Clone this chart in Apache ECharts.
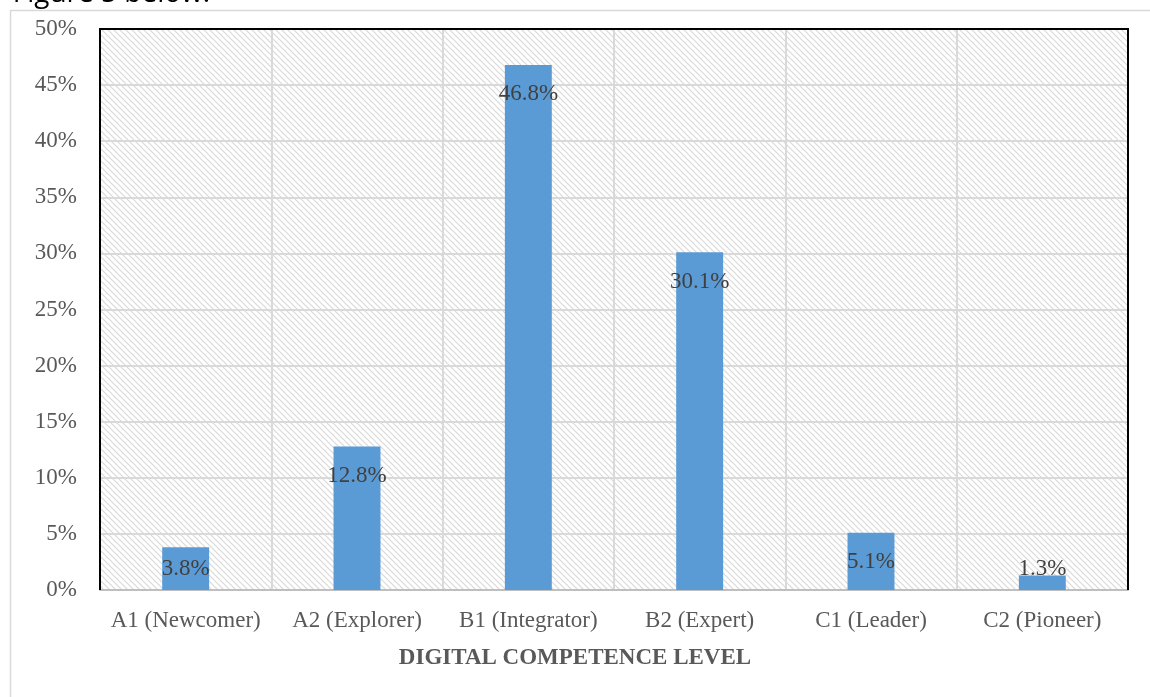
<!DOCTYPE html>
<html>
<head>
<meta charset="utf-8">
<script src="https://cdn.jsdelivr.net/npm/echarts@6/dist/echarts.min.js"></script>
<style>html,body{margin:0;padding:0;background:#fff;}#c{width:1150px;height:697px;}</style>
</head>
<body>
<div id="c"></div>
<script>
const categories = ['A1 (Newcomer)', 'A2 (Explorer)', 'B1 (Integrator)', 'B2 (Expert)', 'C1 (Leader)', 'C2 (Pioneer)'];
const values = [3.8, 12.8, 46.8, 30.1, 5.1, 1.3];
const axisTitle = 'DIGITAL COMPETENCE LEVEL';
const headerText = 'r Figure 5 below.';

// hatch pattern canvas
const pc = document.createElement('canvas');
pc.width = 6; pc.height = 6;
const px = pc.getContext('2d');
px.fillStyle = '#ffffff';
px.fillRect(0, 0, 6, 6);
px.strokeStyle = '#d9d9d9';
px.lineWidth = 1.2;
px.beginPath();
px.moveTo(-1, -1); px.lineTo(7, 7);
px.moveTo(-7, -1); px.lineTo(1, 7);
px.moveTo(5, -1); px.lineTo(13, 7);
px.stroke();

const chart = echarts.init(document.getElementById('c'), null, {renderer: 'canvas'});
const serif = '"Liberation Serif", "Times New Roman", serif';

const barData = values.map(v => ({
  value: v,
  label: v < 5 ? {position: 'insideBottom', distance: 10} : {position: 'insideTop', distance: 18}
}));

chart.setOption({
  animation: false,
  backgroundColor: '#ffffff',
  graphic: [
    {type: 'rect', z: -10, silent: true, shape: {x: 10.5, y: 10.5, width: 1300, height: 900},
     style: {fill: 'none', stroke: '#d9d9d9', lineWidth: 1.5}},
    {type: 'polyline', z: 100, silent: true,
     shape: {points: [[100, 590], [100, 29], [1128, 29], [1128, 590]]},
     style: {fill: 'none', stroke: '#000', lineWidth: 2}},
    {type: 'text', silent: true, x: -6, y: -6,
     style: {text: headerText, font: '28px "Open Sans", "Noto Sans", sans-serif', fill: '#000', verticalAlign: 'middle'}},
    {type: 'text', silent: true, x: 575, y: 658,
     style: {text: axisTitle, font: 'bold 23px ' + serif, fill: '#595959', align: 'center', verticalAlign: 'middle'}}
  ],
  grid: {
    left: 100, top: 29, right: 22, bottom: 107,
    show: true,
    backgroundColor: {image: pc, repeat: 'repeat'},
    borderWidth: 0
  },
  xAxis: {
    type: 'category',
    data: categories,
    axisLine: {show: true, lineStyle: {color: '#bfbfbf', width: 2}},
    axisTick: {show: false},
    splitLine: {show: true, lineStyle: {color: '#d9d9d9', width: 2}},
    axisLabel: {color: '#595959', fontFamily: serif, fontSize: 23, margin: 19, interval: 0}
  },
  yAxis: {
    type: 'value',
    min: 0, max: 50, interval: 5,
    axisLine: {show: false},
    axisTick: {show: false},
    splitLine: {show: true, lineStyle: {color: '#d9d9d9', width: 2}},
    axisLabel: {color: '#595959', fontFamily: serif, fontSize: 23, margin: 23, formatter: '{value}%'}
  },
  series: [{
    type: 'bar',
    data: barData,
    barWidth: '27.4%',
    itemStyle: {color: '#5b9bd5'},
    label: {
      show: true,
      color: '#404040',
      fontFamily: serif,
      fontSize: 23,
      formatter: p => p.value.toFixed(1) + '%'
    }
  }]
});
</script>
</body>
</html>
